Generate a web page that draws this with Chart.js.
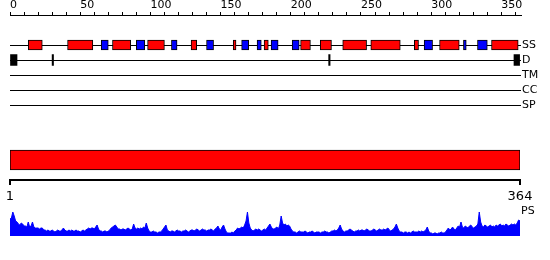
<!DOCTYPE html>
<html>
<head>
<meta charset="utf-8">
<script src="https://cdn.jsdelivr.net/npm/chart.js@4"></script>
<style>
  body { margin: 0; background: #fff; }
  #wrap { position: relative; width: 550px; height: 260px; }
  #wrap canvas { position: absolute; left: 0; }
</style>
</head>
<body>
<div id="wrap">
  <canvas id="tracks" width="550" height="115" style="top:0"></canvas>
  <canvas id="ps" width="550" height="36" style="top:200px"></canvas>
  <canvas id="protein" width="550" height="60" style="top:140px"></canvas>
</div>
<script>
// sequence + feature tracks
const seqLength = 364;
const trackNames = ['SS', 'D', 'TM', 'CC', 'SP'];
const helices = [[13,23],[41,59],[73,86],[98,110],[129,133],[159,161],[181,184],[207,214],[221,229],[237,254],[257,278],[288,291],[306,320],[343,362]];
const strands = [[65,70],[90,96],[115,119],[140,145],[165,170],[176,179],[186,191],[201,206],[295,301],[323,325],[333,340]];
const domains = [[0,5],[30,31],[227,228],[359,363]];
const rulerTicks = [1, 364];

// PS profile, one value per residue
const psValues = [
  17,18,24,20,15,14,12,11,13,12,10,10,9,14,9,10,14,9,8,8,
  8,7,8,8,6,6,5,6,5,5,6,5,4,5,6,5,5,6,8,6,
  5,5,6,5,6,5,5,6,5,5,4,5,6,5,6,7,8,7,8,8,
  7,9,11,7,5,5,4,5,5,4,5,6,8,9,10,11,9,7,7,6,
  7,7,6,7,8,7,6,7,12,8,7,8,7,8,7,9,8,13,8,5,
  4,4,5,4,4,3,4,4,5,7,9,11,6,5,4,5,5,4,5,6,
  5,5,4,5,5,6,5,4,5,6,6,5,6,7,6,5,6,7,6,6,
  5,6,6,7,6,5,7,8,10,7,6,9,11,7,4,3,3,3,4,3,
  5,6,8,7,8,9,8,11,15,24,13,8,6,5,6,7,6,7,6,5,
  6,7,6,8,10,12,9,7,7,8,9,7,11,20,13,11,12,10,11,10,
  7,5,4,4,3,4,5,4,4,4,5,4,3,4,4,5,4,3,4,4,
  4,3,4,4,5,4,4,3,4,5,5,6,5,6,8,11,7,5,4,5,
  5,6,7,6,5,4,5,5,6,5,6,6,5,6,7,6,5,5,6,7,
  6,5,6,7,6,6,7,6,7,8,6,5,6,7,9,12,8,5,4,4,
  3,4,4,3,4,3,4,5,4,4,4,5,4,5,4,5,6,9,5,3,
  3,2,3,3,2,3,3,4,3,3,4,6,8,6,7,9,7,6,8,10,
  9,14,9,8,10,9,8,10,11,9,8,9,10,12,24,14,10,9,11,10,
  9,10,11,9,10,9,11,10,11,12,10,11,10,12,11,10,11,12,11,12,
  11,13,16,15
];

const labelFont = { family: 'DejaVu Sans', size: 11, lineHeight: 1 };
const row = name => trackNames.indexOf(name) + 2;
// keep axis boxes to a fixed size so the three canvases line up
const fixBox = (w, h) => s => {
  if (w != null) s.width = w;
  if (h != null) s.height = h;
  s.paddingTop = s.paddingBottom = s.paddingLeft = s.paddingRight = 0;
};

new Chart(document.getElementById('tracks'), {
  type: 'bar',
  data: {
    datasets: [
      { data: helices.map(r => ({ x: r, y: row('SS') })), backgroundColor: '#ff0000', borderColor: '#000', borderWidth: 1, borderSkipped: false, barThickness: 10, grouped: false },
      { data: strands.map(r => ({ x: r, y: row('SS') })), backgroundColor: '#0000ff', borderColor: '#000', borderWidth: 1, borderSkipped: false, barThickness: 10, grouped: false },
      { data: domains.map(r => ({ x: r, y: row('D') })), backgroundColor: '#000', borderWidth: 0, barThickness: 11, grouped: false }
    ]
  },
  options: {
    responsive: false,
    animation: false,
    indexAxis: 'y',
    layout: { padding: { left: 10, top: 0, right: 0, bottom: 2.5 } },
    plugins: { legend: { display: false }, tooltip: { enabled: false } },
    scales: {
      x: {
        type: 'linear', position: 'top', min: 0, max: seqLength, offset: false,
        afterFit: fixBox(null, 15),
        ticks: {
          stepSize: 10, includeBounds: false, autoSkip: false, maxRotation: 0,
          align: 'start', padding: 1, color: '#000', font: labelFont,
          callback: v => (v % 50 === 0 ? String(v) : '')
        },
        grid: { drawOnChartArea: false, tickLength: 3, color: '#000', offset: false },
        border: { color: '#000' }
      },
      y: {
        type: 'linear', position: 'right', reverse: true, min: 0, max: 6.5, offset: false,
        afterBuildTicks: s => { s.ticks = trackNames.map((n, i) => ({ value: i + 2 })); },
        afterFit: fixBox(29, null),
        ticks: { callback: v => trackNames[v - 2], padding: 1, color: '#000', font: labelFont },
        grid: { drawTicks: false, color: '#000', offset: false },
        border: { display: false }
      }
    }
  }
});

new Chart(document.getElementById('ps'), {
  type: 'line',
  data: {
    datasets: [
      {
        data: psValues.map((v, i) => ({ x: i + 1, y: v })),
        fill: 'origin', backgroundColor: '#0000ff', borderColor: '#0000ff',
        borderWidth: 1, pointRadius: 0, tension: 0
      }
    ]
  },
  options: {
    responsive: false,
    animation: false,
    layout: { padding: { left: 10, right: 0, top: 9, bottom: 0 } },
    plugins: { legend: { display: false }, tooltip: { enabled: false } },
    scales: {
      x: { type: 'linear', display: false, min: 1, max: seqLength },
      y: {
        type: 'linear', position: 'right', min: 0, max: 27,
        afterBuildTicks: s => { s.ticks = [{ value: 25 }]; },
        afterFit: fixBox(30, null),
        ticks: { callback: () => 'PS', padding: 1, color: '#000', font: labelFont },
        grid: { display: false, drawTicks: false },
        border: { display: false }
      }
    }
  }
});

// whole-sequence bar with the 1..364 ruler under it
// (1px strokes on this canvas went missing in the full page, 2px ones show)
new Chart(document.getElementById('protein'), {
  type: 'bar',
  data: {
    datasets: [
      { data: [{ x: [1, seqLength], y: 2 }], backgroundColor: '#ff0000', borderColor: '#000', borderWidth: 1, borderSkipped: false, barThickness: 20 }
    ]
  },
  options: {
    responsive: false,
    animation: false,
    indexAxis: 'y',
    layout: { padding: { left: 10, right: 30, top: 0, bottom: 0 } },
    plugins: { legend: { display: false }, tooltip: { enabled: false } },
    scales: {
      x: {
        type: 'linear', position: 'bottom', min: 1, max: seqLength, offset: false,
        afterBuildTicks: s => { s.ticks = rulerTicks.map(v => ({ value: v })); },
        afterFit: fixBox(null, 20),
        ticks: { autoSkip: false, maxRotation: 0, padding: 5, color: '#000', font: { family: 'DejaVu Sans', size: 13, lineHeight: 1 } },
        grid: { drawOnChartArea: false, tickLength: 5, color: '#000', lineWidth: 2, offset: false },
        border: { display: true, color: '#000', width: 2 }
      },
      y: { type: 'linear', display: false, min: 0, max: 4, offset: false }
    }
  }
});
</script>
</body>
</html>
